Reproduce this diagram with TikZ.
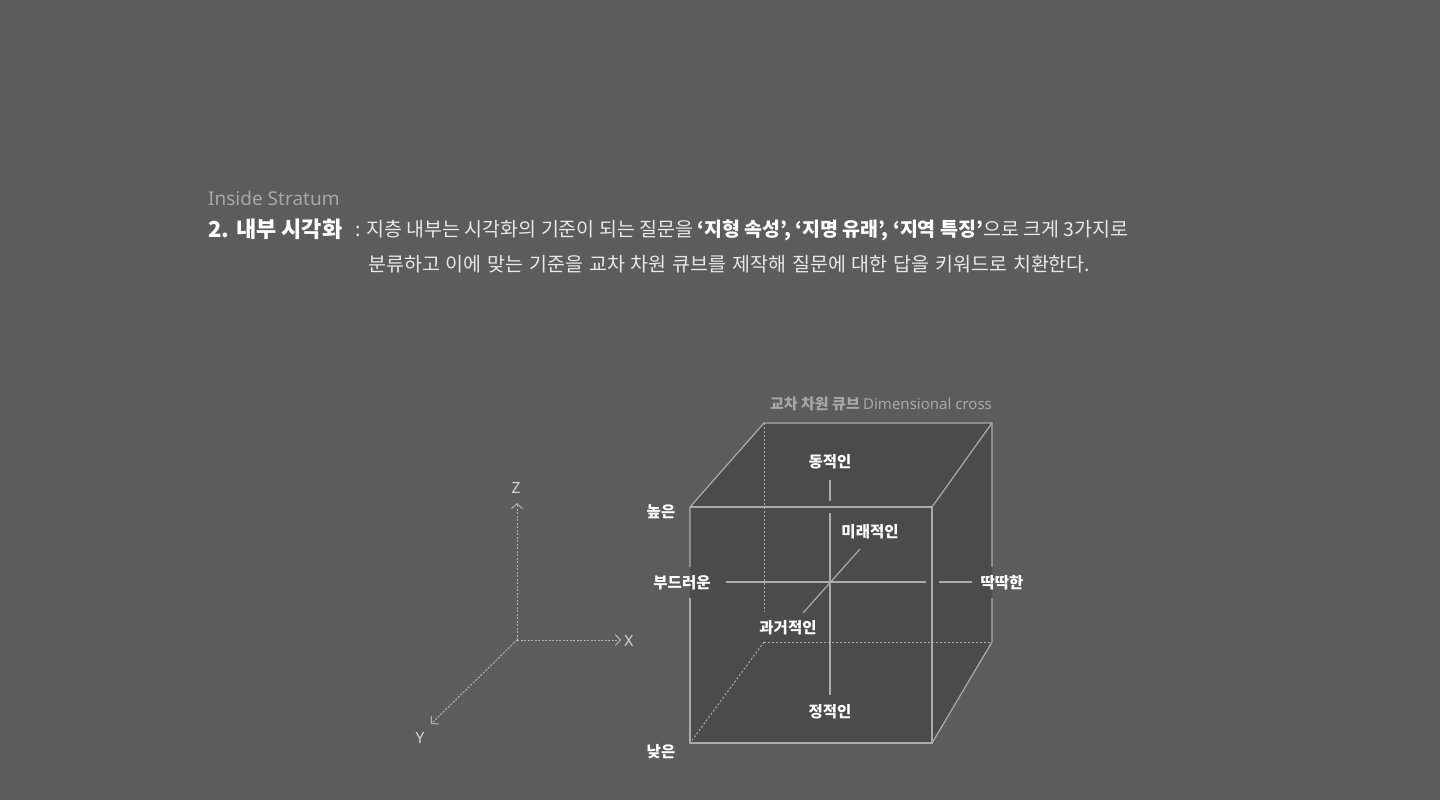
\documentclass[tikz,border=0pt]{standalone}
\usepackage{fontspec}
\setmainfont{Noto Sans CJK KR}
\newfontfamily\latinfont{Noto Sans}
\usetikzlibrary{arrows.meta}
\definecolor{bg}{HTML}{5C5C5C}
\definecolor{cubefill}{HTML}{4B4B4B}
\definecolor{edgecol}{HTML}{ABABAB}
\definecolor{subtle}{HTML}{A8A8A8}
\definecolor{bodytext}{HTML}{E8E8E8}
\definecolor{axiscol}{HTML}{B4B4B4}
\definecolor{axistext}{HTML}{D4D4D4}
\tikzset{
  cubeedge/.style={draw=edgecol, line width=1.2pt},
  hiddenedge/.style={draw=edgecol, line width=1pt, dash pattern=on 2pt off 2pt},
  crossline/.style={draw=edgecol, line width=1.2pt},
  axisline/.style={draw=axiscol, line width=1pt, dash pattern=on 2pt off 1.5pt, -{Straight Barb[length=5pt,width=11pt]}},
  axislabel/.style={text=axistext, font=\latinfont\fontsize{15.5}{18}\selectfont, inner sep=0pt},
  cubelabel/.style={text=white, font=\bfseries\fontsize{15.5}{18}\selectfont, inner sep=0pt},
  bodyline/.style={text=bodytext, font=\fontsize{19.5}{22}\selectfont, inner sep=0pt, anchor=base west},
}
\begin{document}
\begin{tikzpicture}[x=1pt,y=-1pt]
\fill[bg] (0,0) rectangle (1440,800);
\useasboundingbox (0,0) rectangle (1440,800);

% header text
\node[text=subtle, font=\latinfont\fontsize{19}{21}\selectfont, inner sep=0pt, anchor=base west] (kicker) at (208,205) {Inside Stratum};
\node[text=white, font=\bfseries\fontsize{22}{24}\selectfont, inner sep=0pt, anchor=base west] (heading) at (208,237) {2. 내부 시각화};
\node[bodyline] (line1) at (355,236) {: 지층 내부는 시각화의 기준이 되는 질문을 \textcolor{white}{\bfseries ‘지형 속성’, ‘지명 유래’, ‘지역 특징’}으로 크게 3가지로};
\node[bodyline] (line2) at (368,271) {\spaceskip=5.9pt plus 1pt\relax 분류하고 이에 맞는 기준을 교차 차원 큐브를 제작해 질문에 대한 답을 키워드로 치환한다.};

% axes
\coordinate (O) at (517,640);
\coordinate (Zt) at (517,503);
\coordinate (Xt) at (621,640);
\coordinate (Yt) at (431,724);
\draw[axisline] (O) -- (Zt);
\draw[axisline] (O) -- (Xt);
\draw[axisline] (O) -- (Yt);
\node[axislabel] (zl) at (516,488) {Z};
\node[axislabel] (xl) at (629,641) {X};
\node[axislabel] (yl) at (420,738) {Y};

% cube corners
\coordinate (A) at (690,507);
\coordinate (B) at (932,507);
\coordinate (C) at (932,743);
\coordinate (D) at (690,743);
\coordinate (E) at (764,423);
\coordinate (F) at (992,423);
\coordinate (G) at (992,642);
\coordinate (H) at (764,642);
\fill[cubefill] (A) -- (E) -- (F) -- (G) -- (C) -- (D) -- cycle;

% hidden edges
\coordinate (Hv) at (764,612);
\draw[hiddenedge] (E) -- (Hv);
\draw[hiddenedge] (H) -- (G);
\draw[hiddenedge] (H) -- (D);

% visible edges
\coordinate (Lg1) at (690,567);
\coordinate (Lg2) at (690,598);
\coordinate (Rg1) at (992,567);
\coordinate (Rg2) at (992,598);
\draw[cubeedge] (A) -- (B) -- (C) -- (D) -- (Lg2);
\draw[cubeedge] (Lg1) -- (A) -- (E) -- (F) -- (Rg1);
\draw[cubeedge] (B) -- (F);
\draw[cubeedge] (Rg2) -- (G) -- (C);

% cross lines
\coordinate (h1) at (726,582);
\coordinate (h2) at (926,582);
\coordinate (h3) at (939,582);
\coordinate (h4) at (972,582);
\coordinate (v1) at (830,480);
\coordinate (v2) at (830,501);
\coordinate (v3) at (830,513);
\coordinate (v4) at (830,695);
\coordinate (d1) at (803,613);
\coordinate (d2) at (860,549);
\draw[crossline] (h1) -- (h2);
\draw[crossline] (h3) -- (h4);
\draw[crossline] (v1) -- (v2);
\draw[crossline] (v3) -- (v4);
\draw[crossline] (d1) -- (d2);

% labels
\node[text=subtle, font=\fontsize{15}{17}\selectfont, inner sep=0pt] (title) at (881,404) {{\bfseries 교차 차원 큐브} {\latinfont Dimensional cross}};
\node[cubelabel] (dyn) at (830,462) {동적인};
\node[cubelabel] (stat) at (830,712) {정적인};
\node[cubelabel] (fut) at (870,532) {미래적인};
\node[cubelabel] (past) at (788,628) {과거적인};
\node[cubelabel] (soft) at (682,583) {부드러운};
\node[cubelabel] (hard) at (1002,583) {딱딱한};
\node[cubelabel] (high) at (661,512) {높은};
\node[cubelabel] (low) at (661,752) {낮은};
\end{tikzpicture}
\end{document}
